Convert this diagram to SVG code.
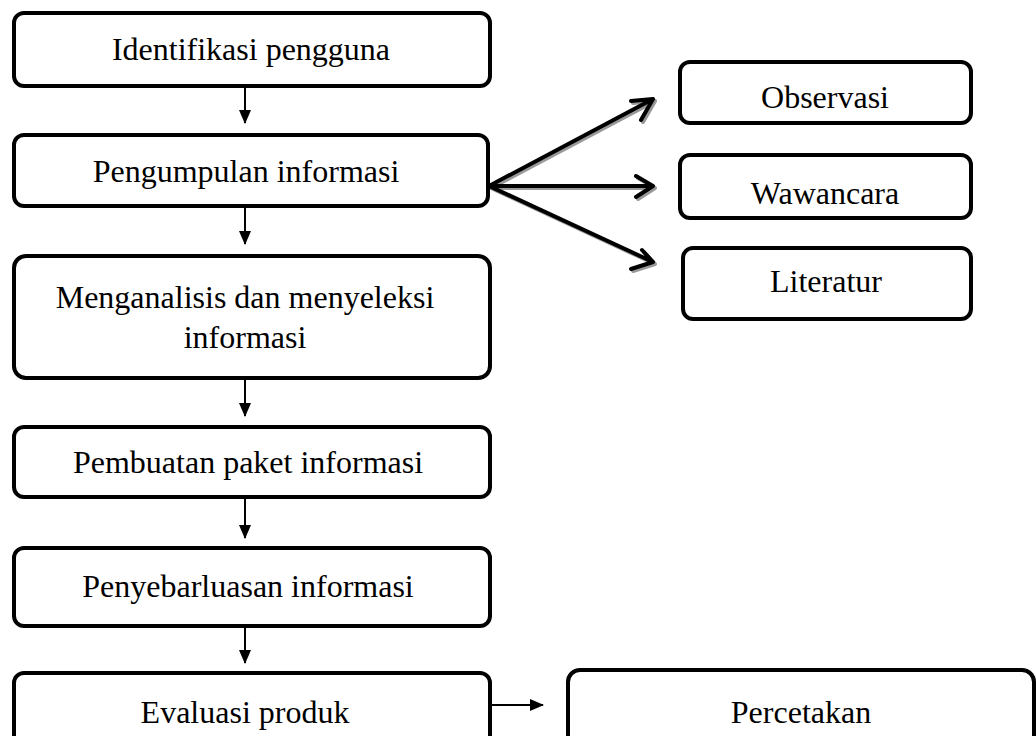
<svg xmlns="http://www.w3.org/2000/svg" width="1036" height="736" viewBox="0 0 1036 736">
<style>
.box{fill:#fff;stroke:#000;stroke-width:4}
.t{font-family:"Liberation Serif","Times New Roman",serif;font-size:32px;fill:#000;text-anchor:middle}
.thin{stroke:#000;stroke-width:2;fill:none}
.thick{stroke:#000;stroke-width:4;fill:none;stroke-linecap:round;stroke-linejoin:round}
.shadow{stroke:#999;stroke-width:4;fill:none;stroke-linecap:round;stroke-linejoin:round}
</style>
<defs>
<marker id="ah" markerWidth="14" markerHeight="12" refX="13" refY="6" orient="auto" markerUnits="userSpaceOnUse">
<path d="M0,0 L14,6 L0,12 Z" fill="#000"/>
</marker>
</defs>
<rect width="1036" height="736" fill="#fff"/>
<g id="connectors">
<line class="thin" x1="245" y1="87" x2="245" y2="123" marker-end="url(#ah)"/>
<line class="thin" x1="245" y1="208" x2="245" y2="244" marker-end="url(#ah)"/>
<line class="thin" x1="245" y1="379" x2="245" y2="416" marker-end="url(#ah)"/>
<line class="thin" x1="245" y1="498" x2="245" y2="538" marker-end="url(#ah)"/>
<line class="thin" x1="245" y1="627" x2="245" y2="663" marker-end="url(#ah)"/>
<line class="thin" x1="490" y1="705" x2="543" y2="705" marker-end="url(#ah)"/>
<g transform="translate(2,2)">
<path class="shadow" d="M489,186 L653,99 M631,101 L653,99 L641,120"/>
<path class="shadow" d="M489,186 L653,186 M636,176 L653,186 L636,197"/>
<path class="shadow" d="M489,186 L653,262 M642,250 L653,262 L631,269"/>
</g>
<path class="thick" d="M489,186 L653,99 M631,101 L653,99 L641,120"/>
<path class="thick" d="M489,186 L653,186 M636,176 L653,186 L636,197"/>
<path class="thick" d="M489,186 L653,262 M642,250 L653,262 L631,269"/>
</g>
<g id="n1"><rect class="box" x="14" y="13" width="476" height="73" rx="10"/><text class="t" x="251" y="60">Identifikasi pengguna</text></g>
<g id="n2"><rect class="box" x="14" y="135" width="474" height="71" rx="10"/><text class="t" x="246" y="182">Pengumpulan informasi</text></g>
<g id="n3"><rect class="box" x="14" y="256" width="476" height="122" rx="12"/><text class="t" x="245" y="308">Menganalisis dan menyeleksi</text><text class="t" x="245" y="348">informasi</text></g>
<g id="n4"><rect class="box" x="14" y="427" width="476" height="70" rx="10"/><text class="t" x="248" y="473">Pembuatan paket informasi</text></g>
<g id="n5"><rect class="box" x="14" y="548" width="476" height="78" rx="10"/><text class="t" x="248" y="597">Penyebarluasan informasi</text></g>
<g id="n6"><rect class="box" x="14" y="673" width="476" height="80" rx="10"/><text class="t" x="245" y="723">Evaluasi produk</text></g>
<g id="n7"><rect class="box" x="568" y="670" width="466" height="83" rx="12"/><text class="t" x="801" y="723">Percetakan</text></g>
<g id="n8"><rect class="box" x="680" y="62" width="291" height="61" rx="10"/><text class="t" x="825" y="108">Observasi</text></g>
<g id="n9"><rect class="box" x="680" y="155" width="291" height="63" rx="10"/><text class="t" x="825" y="204">Wawancara</text></g>
<g id="n10"><rect class="box" x="683" y="248" width="288" height="71" rx="10"/><text class="t" x="826" y="292">Literatur</text></g>
</svg>
